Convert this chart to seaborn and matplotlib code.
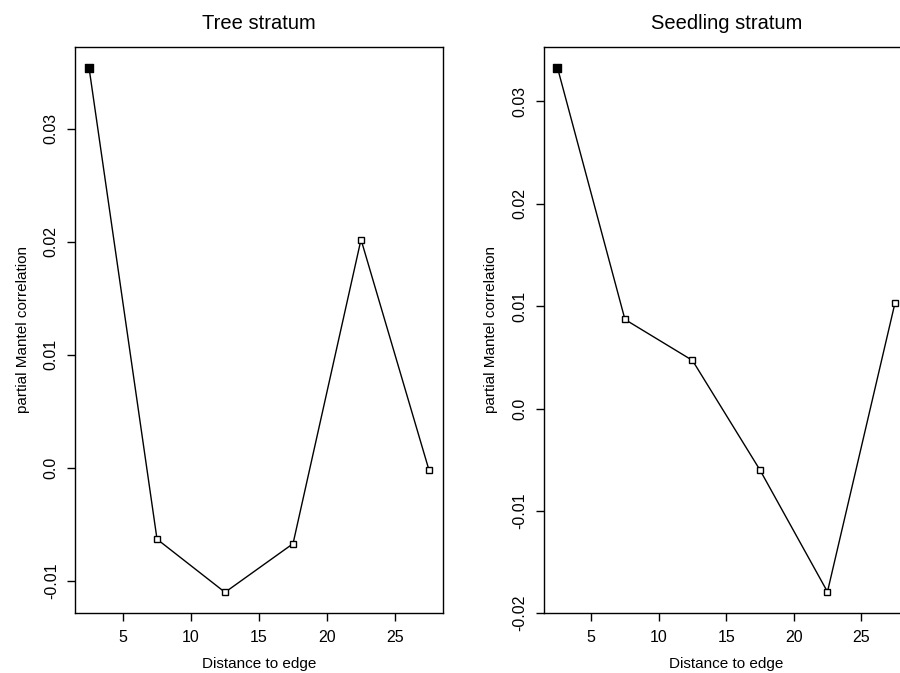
import matplotlib
matplotlib.use("Agg")
import matplotlib.pyplot as plt
import seaborn as sns
import numpy as np
import pandas as pd

# distance classes (midpoints) and partial Mantel correlations
distance = [2.5, 7.5, 12.5, 17.5, 22.5, 27.5]
tree_r = [0.0354, -0.0063, -0.0110, -0.0067, 0.0202, -0.0002]
seedling_r = [0.0333, 0.0087, 0.0047, -0.0060, -0.0179, 0.0103]
# significant classes drawn as filled squares
tree_sig = [True, False, False, False, False, False]
seedling_sig = [True, False, False, False, False, False]

x_ticks = [5, 10, 15, 20, 25]
tree_yticks = [-0.01, 0.0, 0.01, 0.02, 0.03]
tree_ylabels = ["-0.01", "0.0", "0.01", "0.02", "0.03"]
seed_yticks = [-0.02, -0.01, 0.0, 0.01, 0.02, 0.03]
seed_ylabels = ["-0.02", "-0.01", "0.0", "0.01", "0.02", "0.03"]

sns.set_style("ticks")
plt.rcParams['font.family'] = ['Liberation Sans', 'DejaVu Sans']
# plain black text like base R graphics
plt.rcParams['text.color'] = 'black'
plt.rcParams['axes.labelcolor'] = 'black'
plt.rcParams['xtick.color'] = 'black'
plt.rcParams['ytick.color'] = 'black'


def r_lim(vals):
    # R default axis range: data range padded by 4% on each side
    lo, hi = min(vals), max(vals)
    pad = (hi - lo) * 0.04
    return lo - pad, hi + pad


def panel(ax, values, sig, title, yticks, ylabels):
    df = pd.DataFrame({'dist': distance, 'r': values, 'sig': sig})
    sns.lineplot(data=df, x='dist', y='r', ax=ax, color='black', linewidth=1.0,
                 marker='s', markersize=5, markerfacecolor='white',
                 markeredgecolor='black', markeredgewidth=1.0)
    sig_df = df[df['sig']]
    sns.scatterplot(data=sig_df, x='dist', y='r', ax=ax, marker='s', s=34,
                    color='black', edgecolor='black', linewidth=1.0, zorder=5)
    ax.set_xlim(r_lim(distance))
    ax.set_ylim(r_lim(values))
    ax.set_xticks(x_ticks)
    ax.set_xticklabels([str(t) for t in x_ticks])
    ax.set_yticks(yticks)
    ax.set_yticklabels(ylabels, rotation=90, va='center')
    ax.tick_params(direction='out', length=6, width=1, labelsize=11.5,
                   color='black', labelcolor='black', pad=6)
    for sp in ax.spines.values():
        sp.set_visible(True)
        sp.set_linewidth(1.0)
        sp.set_color('black')
    ax.set_title(title, fontsize=14.5, pad=13, color='black')
    ax.set_xlabel('Distance to edge', fontsize=11, labelpad=9)
    ax.set_ylabel('partial Mantel correlation', fontsize=11, labelpad=10)


fig = plt.figure(figsize=(9, 6.73), dpi=100)
ax1 = fig.add_axes([0.0838, 0.0887, 0.408, 0.842])
ax2 = fig.add_axes([0.6044, 0.0887, 0.405, 0.842])

panel(ax1, tree_r, tree_sig, 'Tree stratum', tree_yticks, tree_ylabels)
panel(ax2, seedling_r, seedling_sig, 'Seedling stratum', seed_yticks, seed_ylabels)

fig.savefig('out.png', dpi=100)
